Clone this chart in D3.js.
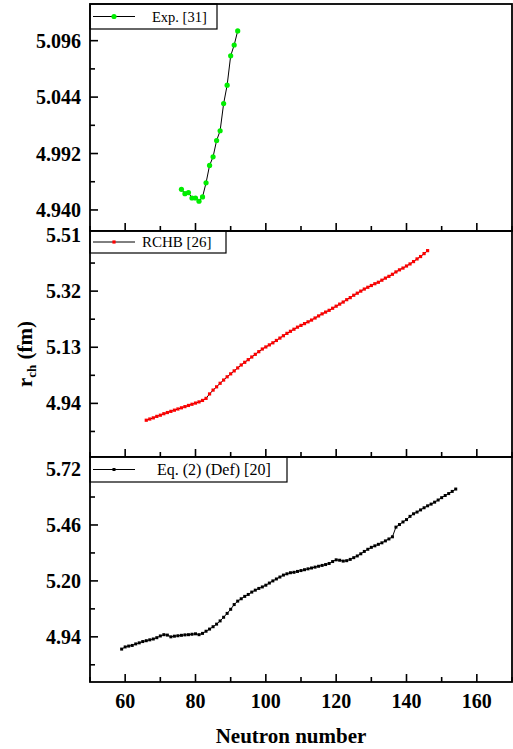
<!DOCTYPE html>
<html>
<head>
<meta charset="utf-8">
<script src="https://cdn.jsdelivr.net/npm/d3@7"></script>
<style>
  html, body { margin: 0; padding: 0; background: #fff; }
  svg { display: block; font-family: "Liberation Serif", "Times New Roman", serif; }
</style>
</head>
<body>
<svg id="chart" width="513" height="749"></svg>
<script>
// Exp. [31]
const expN = [76, 77, 78, 79, 80, 81, 82, 83, 84, 85, 86, 87, 88, 89, 90, 91, 92];
const expR = [4.959, 4.955, 4.956, 4.951, 4.951, 4.948, 4.952, 4.965, 4.981, 4.989, 5.004, 5.013, 5.038, 5.055, 5.082, 5.092, 5.105];

// RCHB [26], N = 66..146
const rchbStart = 66;
const rchbR = [
  4.883, 4.887, 4.891, 4.896, 4.900, 4.905, 4.909, 4.913, 4.917, 4.921,
  4.925, 4.929, 4.933, 4.937, 4.941, 4.945, 4.950, 4.957, 4.972, 4.985,
  4.996, 5.008, 5.019, 5.030, 5.040, 5.050, 5.060, 5.070, 5.079, 5.088,
  5.097, 5.106, 5.115, 5.124, 5.131, 5.138, 5.145, 5.153, 5.161, 5.169,
  5.177, 5.184, 5.191, 5.198, 5.204, 5.210, 5.216, 5.222, 5.229, 5.236,
  5.243, 5.249, 5.255, 5.262, 5.269, 5.276, 5.283, 5.291, 5.298, 5.306,
  5.313, 5.320, 5.327, 5.333, 5.339, 5.345, 5.350, 5.357, 5.364, 5.370,
  5.377, 5.385, 5.392, 5.398, 5.405, 5.412, 5.420, 5.429, 5.437, 5.447,
  5.457
];

// Eq. (2) (Def) [20], N = 59..154
const defStart = 59;
const defR = [
  4.883, 4.893, 4.897, 4.900, 4.907, 4.912, 4.918, 4.922, 4.926, 4.930,
  4.936, 4.944, 4.950, 4.948, 4.940, 4.943, 4.945, 4.947, 4.949, 4.950,
  4.952, 4.954, 4.950, 4.956, 4.966, 4.976, 4.987, 4.999, 5.014, 5.031,
  5.049, 5.068, 5.090, 5.106, 5.117, 5.128, 5.137, 5.148, 5.157, 5.165,
  5.172, 5.180, 5.190, 5.200, 5.209, 5.218, 5.227, 5.233, 5.238, 5.240,
  5.244, 5.248, 5.252, 5.256, 5.260, 5.264, 5.268, 5.272, 5.276, 5.281,
  5.290, 5.298, 5.296, 5.292, 5.294, 5.300, 5.308, 5.316, 5.326, 5.337,
  5.347, 5.356, 5.363, 5.370, 5.377, 5.386, 5.395, 5.405, 5.450, 5.462,
  5.474, 5.485, 5.500, 5.512, 5.520, 5.530, 5.540, 5.549, 5.557, 5.566,
  5.576, 5.587, 5.597, 5.606, 5.616, 5.627
];

const xTicks = [60, 80, 100, 120, 140, 160];
const xMinor = [50, 70, 90, 110, 130, 150, 170];
const expTicks = [4.940, 4.992, 5.044, 5.096];
const rchbTicks = [4.94, 5.13, 5.32, 5.51];
const defTicks = [4.94, 5.20, 5.46, 5.72];

const svg = d3.select("#chart");
const left = 90, right = 512;

const x = d3.scaleLinear().domain([50, 170]).range([left, right]);

const panels = [
  { top: 4, bottom: 231, domain: [4.9206, 5.1298], ticks: expTicks, fmt: d3.format(".3f"),
    data: expN.map((n, i) => [n, expR[i]]), color: "#00ee00", shape: "dot", r: 2.6,
    label: "Exp. [31]", legW: 127, legH: 25, textX: 152, fs: 14.5 },
  { top: 231, bottom: 457, domain: [4.7585, 5.5235], ticks: rchbTicks, fmt: d3.format(".2f"),
    data: rchbR.map((v, i) => [rchbStart + i, v]), color: "#ff0000", shape: "square", r: 1.6,
    label: "RCHB [26]", legW: 136, legH: 22, textX: 142, fs: 15 },
  { top: 457, bottom: 682, domain: [4.73, 5.776], ticks: defTicks, fmt: d3.format(".2f"),
    data: defR.map((v, i) => [defStart + i, v]), color: "#000000", shape: "square", r: 1.5,
    label: "Eq. (2) (Def) [20]", legW: 197, legH: 25, textX: 157, fs: 16 }
];

panels.forEach((p, idx) => {
  const y = d3.scaleLinear().domain(p.domain).range([p.bottom, p.top]);
  const g = svg.append("g");

  // minor y ticks at midpoints
  const step = p.ticks[1] - p.ticks[0];
  const minorY = [];
  for (let k = -1; k < p.ticks.length; k++) {
    const v = p.ticks[0] + step * (k + 0.5);
    if (v > p.domain[0] && v < p.domain[1]) minorY.push(v);
  }

  // y ticks (inward)
  g.selectAll(".ymaj").data(p.ticks).enter().append("line")
    .attr("x1", left).attr("x2", left + 8)
    .attr("y1", d => y(d)).attr("y2", d => y(d))
    .attr("stroke", "#000").attr("stroke-width", 1.6);
  g.selectAll(".ymin").data(minorY).enter().append("line")
    .attr("x1", left).attr("x2", left + 5)
    .attr("y1", d => y(d)).attr("y2", d => y(d))
    .attr("stroke", "#000").attr("stroke-width", 1.6);

  g.selectAll(".ylab").data(p.ticks).enter().append("text")
    .attr("x", 81).attr("y", d => y(d)).attr("dy", "0.35em")
    .attr("text-anchor", "end")
    .attr("font-size", 20).attr("font-weight", "bold")
    .text(d => p.fmt(d));

  // x ticks on bottom edge (inward)
  g.selectAll(".xmaj").data(xTicks).enter().append("line")
    .attr("x1", d => x(d)).attr("x2", d => x(d))
    .attr("y1", p.bottom).attr("y2", p.bottom - 8)
    .attr("stroke", "#000").attr("stroke-width", 1.6);
  g.selectAll(".xmin").data(xMinor).enter().append("line")
    .attr("x1", d => x(d)).attr("x2", d => x(d))
    .attr("y1", p.bottom).attr("y2", p.bottom - 5)
    .attr("stroke", "#000").attr("stroke-width", 1.6);

  // data line + markers
  const line = d3.line().x(d => x(d[0])).y(d => y(d[1]));
  g.append("path").datum(p.data)
    .attr("d", line).attr("fill", "none")
    .attr("stroke", "#000").attr("stroke-width", 1);

  const drawMarker = (sel) => {
    if (p.shape === "dot") {
      sel.append("circle").attr("r", p.r).attr("fill", p.color);
    } else {
      sel.append("rect").attr("x", -p.r).attr("y", -p.r)
        .attr("width", p.r * 2).attr("height", p.r * 2).attr("fill", p.color);
    }
  };
  g.selectAll(".pt").data(p.data).enter().append("g")
    .attr("transform", d => `translate(${x(d[0])},${y(d[1])})`)
    .call(drawMarker);

  // legend
  const lg = g.append("g");
  lg.append("rect").attr("x", left).attr("y", p.top)
    .attr("width", p.legW).attr("height", p.legH)
    .attr("fill", "#fff").attr("stroke", "#000").attr("stroke-width", 1.2);
  const ly = p.top + p.legH / 2;
  lg.append("line").attr("x1", left + 3).attr("x2", left + 45)
    .attr("y1", ly).attr("y2", ly).attr("stroke", "#000").attr("stroke-width", 1);
  lg.append("g").attr("transform", `translate(${left + 24},${ly})`).call(drawMarker);
  lg.append("text").attr("x", p.textX).attr("y", ly).attr("dy", "0.35em")
    .attr("font-size", p.fs).text(p.label);

  // frame
  g.append("rect").attr("x", left).attr("y", p.top)
    .attr("width", right - left).attr("height", p.bottom - p.top)
    .attr("fill", "none").attr("stroke", "#000").attr("stroke-width", 1.8);
});

// x tick labels on the bottom panel
svg.selectAll(".xlab").data(xTicks).enter().append("text")
  .attr("x", d => x(d)).attr("y", 708)
  .attr("text-anchor", "middle")
  .attr("font-size", 20).attr("font-weight", "bold")
  .text(d => d);

// axis titles
svg.append("text").attr("x", 291).attr("y", 743)
  .attr("text-anchor", "middle").attr("font-size", 21).attr("font-weight", "bold")
  .text("Neutron number");

const yt = svg.append("text")
  .attr("transform", "translate(32,354) rotate(-90)")
  .attr("text-anchor", "middle").attr("font-size", 21).attr("font-weight", "bold");
yt.append("tspan").text("r");
yt.append("tspan").attr("font-size", 13).attr("dy", 4).text("ch");
yt.append("tspan").attr("dy", -4).text(" (fm)");
</script>
</body>
</html>
